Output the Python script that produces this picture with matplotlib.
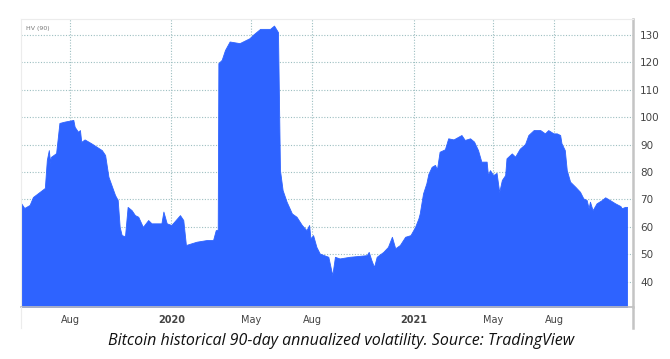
import numpy as np
import pandas as pd
import matplotlib
matplotlib.use("Agg")
import matplotlib.pyplot as plt
import matplotlib.dates as mdates
from matplotlib.lines import Line2D

# HV(90), (date, value)
dates = [
    "2019-05-19", "2019-05-24", "2019-06-01", "2019-06-06", "2019-06-24", "2019-06-27",
    "2019-06-30", "2019-07-02", "2019-07-03", "2019-07-11", "2019-07-16", "2019-07-24",
    "2019-08-06", "2019-08-08", "2019-08-13", "2019-08-16", "2019-08-18", "2019-08-23",
    "2019-09-02", "2019-09-18", "2019-09-23", "2019-09-28", "2019-10-08", "2019-10-12",
    "2019-10-15", "2019-10-18", "2019-10-23", "2019-10-27", "2019-11-02", "2019-11-07",
    "2019-11-12", "2019-11-19", "2019-11-27", "2019-12-02", "2019-12-17", "2019-12-20",
    "2019-12-25", "2020-01-01", "2020-01-14", "2020-01-19", "2020-01-23", "2020-02-08",
    "2020-02-23", "2020-03-04", "2020-03-08", "2020-03-11", "2020-03-12", "2020-03-17",
    "2020-03-22", "2020-03-29", "2020-04-13", "2020-04-28", "2020-05-03", "2020-05-14",
    "2020-05-29", "2020-06-04", "2020-06-08", "2020-06-10", "2020-06-13", "2020-06-17",
    "2020-06-23", "2020-07-01", "2020-07-08", "2020-07-16", "2020-07-23", "2020-07-27",
    "2020-07-29", "2020-08-02", "2020-08-07", "2020-08-12", "2020-08-25", "2020-08-31",
    "2020-09-04", "2020-09-11", "2020-09-26", "2020-10-22", "2020-10-25", "2020-10-29",
    "2020-11-02", "2020-11-06", "2020-11-16", "2020-11-23", "2020-11-29", "2020-12-04",
    "2020-12-11", "2020-12-19", "2020-12-27", "2021-01-03", "2021-01-08", "2021-01-10",
    "2021-01-15", "2021-01-20", "2021-01-23", "2021-01-28", "2021-02-02", "2021-02-05",
    "2021-02-09", "2021-02-17", "2021-02-22", "2021-03-02", "2021-03-14", "2021-03-19",
    "2021-03-27", "2021-04-02", "2021-04-08", "2021-04-13", "2021-04-21", "2021-04-23",
    "2021-04-26", "2021-05-01", "2021-05-06", "2021-05-10", "2021-05-14", "2021-05-19",
    "2021-05-21", "2021-05-29", "2021-06-03", "2021-06-10", "2021-06-18", "2021-06-23",
    "2021-07-01", "2021-07-11", "2021-07-18", "2021-07-23", "2021-07-31", "2021-08-05",
    "2021-08-10", "2021-08-12", "2021-08-17", "2021-08-20", "2021-08-25", "2021-09-02",
    "2021-09-09", "2021-09-14", "2021-09-19", "2021-09-22", "2021-09-24", "2021-09-28",
    "2021-10-04", "2021-10-12", "2021-10-17", "2021-10-24", "2021-11-01", "2021-11-09",
    "2021-11-11", "2021-11-16", "2021-11-19",
]
hv = [
    68.7, 66.9, 68.0, 70.9, 74.2, 84.4,
    88.0, 83.3, 85.5, 86.9, 97.9, 98.4,
    99.0, 96.5, 94.7, 95.3, 91.0, 91.9,
    90.5, 88.0, 86.2, 78.3, 71.6, 69.8,
    60.0, 57.0, 56.6, 67.3, 66.1, 64.3,
    63.7, 60.0, 62.5, 61.3, 61.3, 65.6,
    61.3, 60.7, 64.3, 62.5, 53.4, 54.6,
    55.2, 55.2, 58.8, 59.0, 119.7, 120.9,
    124.5, 127.6, 127.0, 128.8, 130.0, 132.2,
    132.2, 133.4, 131.8, 131.0, 80.7, 73.4,
    69.2, 64.9, 63.7, 60.7, 58.8, 60.7,
    55.8, 57.0, 52.7, 50.3, 49.1, 42.4,
    49.1, 48.5, 49.1, 49.7, 50.9, 47.9,
    45.4, 49.1, 50.9, 52.7, 56.4, 52.2,
    53.4, 56.4, 57.0, 60.0, 63.1, 64.9,
    72.2, 75.9, 79.3, 81.9, 82.6, 81.0,
    87.4, 88.3, 92.3, 91.9, 93.5, 91.7,
    92.3, 91.1, 88.0, 83.8, 83.8, 78.9,
    80.7, 78.9, 79.7, 72.7, 77.1, 78.9,
    85.0, 86.8, 85.6, 88.5, 90.2, 93.5,
    95.3, 95.3, 94.1, 95.3, 94.1, 94.1,
    93.5, 90.5, 88.0, 80.7, 76.5, 74.6,
    72.8, 70.4, 69.8, 66.8, 69.2, 66.1,
    68.6, 69.8, 70.8, 69.8, 68.6, 67.6,
    66.8, 67.3, 67.3,
]
xtick_dates = ["2019-08-01", "2020-01-01", "2020-05-01", "2020-08-01",
               "2021-01-01", "2021-05-01", "2021-08-01"]
xtick_labels = ["Aug", "2020", "May", "Aug", "2021", "May", "Aug"]
yticks = [40, 50, 60, 70, 80, 90, 100, 110, 120, 130]

x = pd.to_datetime(dates)
xt = pd.to_datetime(xtick_dates)

fig = plt.figure(figsize=(6.70, 3.59), dpi=100)
ax = fig.add_axes([21 / 670, 1 - 307 / 359, 612 / 670, 288 / 359])

ax.fill_between(x, 30, hv, color="#2e63ff", linewidth=0.6, edgecolor="#2e63ff", zorder=2)

ax.set_xlim(pd.Timestamp("2019-05-19"), pd.Timestamp("2021-11-28"))
ax.set_ylim(30.8, 135.8)

ax.yaxis.tick_right()
ax.set_yticks(yticks)
ax.set_xticks(xt)
ax.set_xticklabels(xtick_labels)
for lab in ax.get_xticklabels():
    lab.set_fontweight("bold" if lab.get_text().isdigit() else "normal")
ax.tick_params(axis="both", length=0, labelsize=7.5, colors="#444444")
ax.tick_params(axis="x", pad=6, labelsize=7)
ax.tick_params(axis="y", pad=5)

ax.grid(True, color="#9dbfc1", linestyle=(0, (1, 1.5)), linewidth=0.8, zorder=1)

for s in ["top", "left"]:
    ax.spines[s].set_color("#ececec")
    ax.spines[s].set_linewidth(0.8)
ax.spines["bottom"].set_color("#bdbdbd")
ax.spines["bottom"].set_linewidth(1.2)
ax.spines["right"].set_color("#c4c4c4")
ax.spines["right"].set_linewidth(1.8)

# axis band below the plot
fig.add_artist(Line2D([633 / 670, 633 / 670], [1 - 328 / 359, 1 - 307 / 359],
                      color="#c4c4c4", linewidth=1.8))
fig.add_artist(Line2D([21 / 670, 21 / 670], [1 - 328 / 359, 1 - 307 / 359],
                      color="#ececec", linewidth=0.8))

ax.text(0.008, 0.975, "HV (90)", transform=ax.transAxes, fontsize=4.5,
        color="#777777", va="top", ha="left")

fig.text(341 / 670, 1 - 341 / 359,
         "Bitcoin historical 90-day annualized volatility. Source: TradingView",
         ha="center", va="center", fontsize=11.5, style="italic",
         family="Open Sans", color="#111111")

fig.savefig("out.png", dpi=100)
